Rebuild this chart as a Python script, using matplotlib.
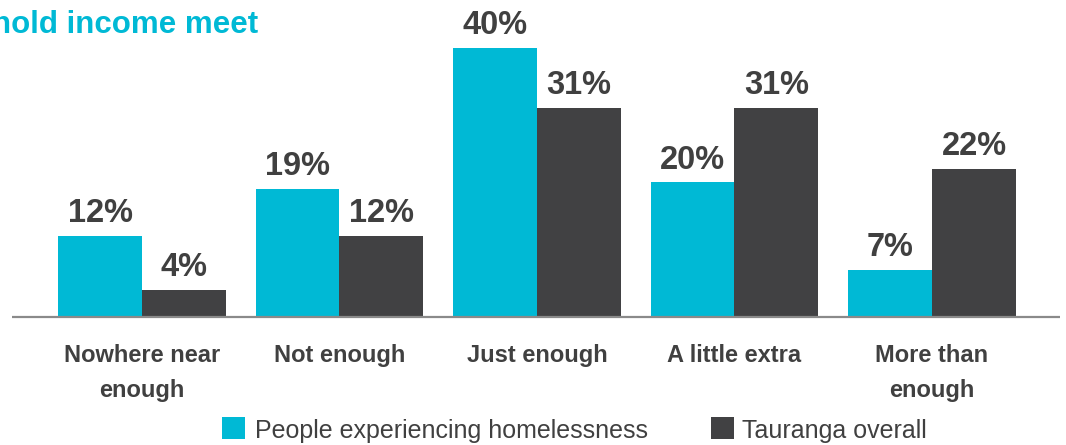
import matplotlib
matplotlib.use("Agg")
import matplotlib.pyplot as plt
import numpy as np
from matplotlib.patches import Rectangle

categories = ["Nowhere near\nenough", "Not enough", "Just enough", "A little extra", "More than\nenough"]
homeless = [12, 19, 40, 20, 7]
tauranga = [4, 12, 31, 31, 22]
series_names = ["People experiencing homelessness", "Tauranga overall"]
title_text = "hold income meet"

CYAN = "#00B9D5"
GRAY = "#414143"
TXT = "#404040"

plt.rcParams['font.family'] = ['Liberation Sans', 'DejaVu Sans']

W, H = 1066, 445
fig = plt.figure(figsize=(W / 100, H / 100), dpi=100)
ax = fig.add_axes([0, (H - 317) / H, 1, 317 / H])


def fx(px):
    return px / W


def fy(py):
    return 1 - py / H


x = np.arange(len(categories))
w = 0.425
ax.bar(x - w / 2, homeless, w, color=CYAN)
ax.bar(x + w / 2, tauranga, w, color=GRAY)

for xs, vals in ((x - w / 2, homeless), (x + w / 2, tauranga)):
    for xi, v in zip(xs, vals):
        ax.annotate(f"{v}%", (xi, v), xytext=(0, 10), textcoords='offset points',
                    ha='center', va='baseline', fontsize=23.5, fontweight='bold', color=TXT)

px_per_unit = 197.5
left = -142 / px_per_unit
right = 4 + (W - 932) / px_per_unit
ax.set_xlim(left, right)
ax.set_ylim(0, 317 / 6.73)

for s in ['top', 'right', 'left', 'bottom']:
    ax.spines[s].set_visible(False)
ax.set_yticks([])
ax.set_xticks([])
x0 = left + 12 / px_per_unit
x1 = left + 1060 / px_per_unit
ax.plot([x0, x1], [0, 0], color='#8a8a8a', lw=1.6, clip_on=False, solid_capstyle='butt')

# category labels, line baselines at 362 and 397 px
for xi, c in zip(x, categories):
    lines = c.split("\n")
    for k, line in enumerate(lines):
        ax.text(xi, -(362 + 35 * k - 317) / 6.73, line, ha='center', va='baseline',
                fontsize=17, fontweight='bold', color=TXT)

fig.text(fx(258), fy(33), title_text, ha='right', va='baseline', fontsize=22.5,
         fontweight='bold', color=CYAN)

# legend
legend_items = [(222, CYAN, 255, series_names[0]), (711, GRAY, 742, series_names[1])]
for sx, col, tx, name in legend_items:
    fig.patches.append(Rectangle((fx(sx), fy(439)), 23 / W, 22 / H, transform=fig.transFigure,
                                 facecolor=col, edgecolor='none'))
    fig.text(fx(tx), fy(438), name, ha='left', va='baseline', fontsize=18, color=TXT)

fig.savefig("out.png", dpi=100)
